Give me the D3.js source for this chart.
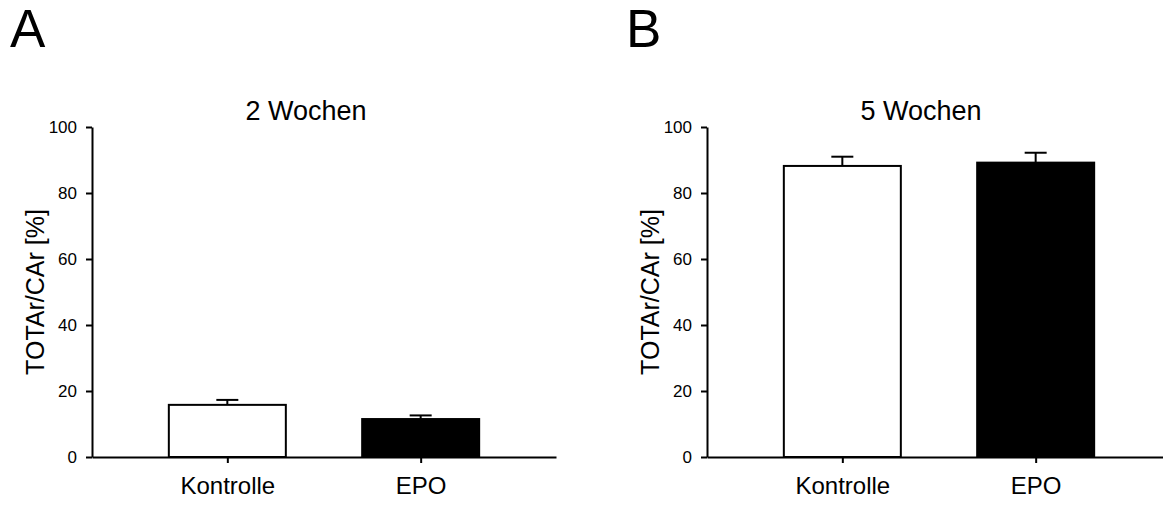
<!DOCTYPE html>
<html>
<head>
<meta charset="utf-8">
<script src="https://cdn.jsdelivr.net/npm/d3@7"></script>
<style>
  body { margin: 0; background: #fff; }
  svg { display: block; font-family: Arial, "Liberation Sans", sans-serif; }
</style>
</head>
<body>
<svg width="1163" height="506"></svg>
<script>
var categories = ["Kontrolle", "EPO"];
var barFills = ["#fff", "#000"];
var panelLetters = ["A", "B"];
var panelTitles = ["2 Wochen", "5 Wochen"];
var means2 = [15.8, 11.5];
var errs2 = [1.5, 1.1];
var means5 = [88.2, 89.2];
var errs5 = [2.8, 3.0];
var yTicks = [0, 20, 40, 60, 80, 100];
var yLabel = "TOTAr/CAr [%]";

var svg = d3.select("svg");

// panel B's x axis runs off the right edge, same length as A's
var panels = [
  { letter: panelLetters[0], title: panelTitles[0], means: means2, errs: errs2, x0: 92, x1: 556, lx: 10 },
  { letter: panelLetters[1], title: panelTitles[1], means: means5, errs: errs5, x0: 707, x1: 1171, lx: 626 }
];

var yTop = 127, yBot = 457;

panels.forEach(function(p) {
  var y = d3.scaleLinear().domain([0, 100]).range([yBot, yTop]);
  var x = d3.scalePoint().domain(categories).range([p.x0, p.x1]).padding(0.7);
  var barW = 117;

  svg.append("text")
      .attr("x", p.lx)
      .attr("y", 47)
      .style("font-size", "53px")
      .text(p.letter);

  svg.append("text")
      .attr("x", p.x0 + 214)
      .attr("y", 120)
      .attr("text-anchor", "middle")
      .style("font-size", "27px")
      .text(p.title);

  var g = svg.append("g");

  // bars
  g.selectAll("rect.bar")
    .data(p.means)
    .enter().append("rect")
      .attr("class", "bar")
      .attr("x", function(d, i) { return x(categories[i]) - barW / 2; })
      .attr("y", function(d) { return y(d); })
      .attr("width", barW)
      .attr("height", function(d) { return y(0) - y(d); })
      .style("fill", function(d, i) { return barFills[i]; })
      .style("stroke", "#000")
      .style("stroke-width", 2);

  // error bars (upper only)
  p.means.forEach(function(m, i) {
    var cx = x(categories[i]);
    g.append("line")
        .attr("x1", cx).attr("x2", cx)
        .attr("y1", y(m)).attr("y2", y(m + p.errs[i]))
        .style("stroke", "#000").style("stroke-width", 2);
    g.append("line")
        .attr("x1", cx - 11).attr("x2", cx + 11)
        .attr("y1", y(m + p.errs[i])).attr("y2", y(m + p.errs[i]))
        .style("stroke", "#000").style("stroke-width", 2);
  });

  // y axis
  var yAxis = g.append("g")
      .attr("transform", "translate(" + p.x0 + ",0)")
      .call(d3.axisLeft(y).tickValues(yTicks).tickSize(6).tickPadding(9).tickSizeOuter(0));
  yAxis.attr("font-family", null);
  yAxis.selectAll("text").style("font-size", "17px").style("fill", "#000");
  yAxis.selectAll("line").style("stroke-width", 2);
  yAxis.select(".domain").style("stroke-width", 2);

  // x axis
  var xAxis = g.append("g")
      .attr("transform", "translate(0," + yBot + ")")
      .call(d3.axisBottom(x).tickSize(6).tickPadding(14).tickSizeOuter(0));
  xAxis.attr("font-family", null);
  xAxis.selectAll("text").style("font-size", "24px").style("fill", "#000");
  xAxis.selectAll("line").style("stroke-width", 2);
  xAxis.select(".domain").style("stroke-width", 2);

  svg.append("text")
      .attr("transform", "translate(" + (p.x0 - 48) + "," + ((yTop + yBot) / 2) + ") rotate(-90)")
      .attr("text-anchor", "middle")
      .style("font-size", "25px")
      .text(yLabel);
});
</script>
</body>
</html>
